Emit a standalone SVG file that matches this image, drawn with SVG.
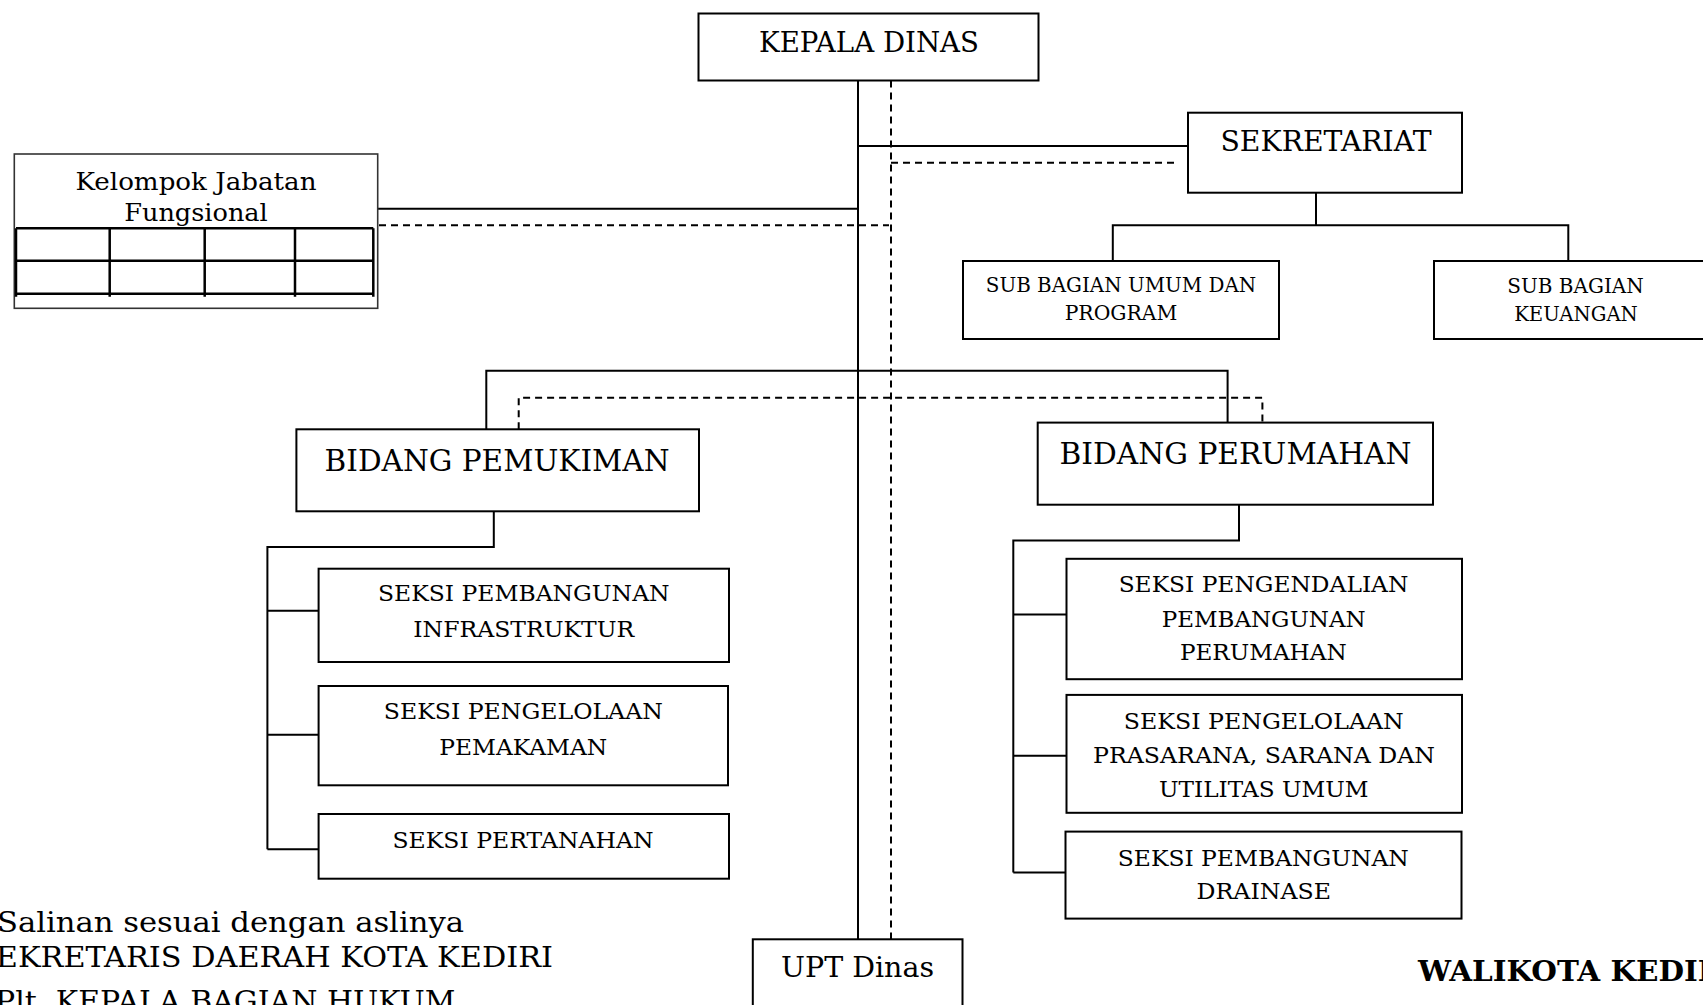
<svg xmlns="http://www.w3.org/2000/svg" width="1703" height="1005" viewBox="0 0 1703 1005">
<style>
.bx{fill:#fff;stroke:#000;stroke-width:2}
.ln{fill:none;stroke:#000;stroke-width:2}
.ds{fill:none;stroke:#000;stroke-width:2;stroke-dasharray:7 5}
.grid{fill:none;stroke:#000;stroke-width:2.5}
text{font-family:"DejaVu Serif","Liberation Serif",serif;fill:#000;text-anchor:middle}
.t27{font-size:27px}
.t30{font-size:30px}
.t23{font-size:23px}
.t20{font-size:20px}
.t24{font-size:24px}
.lft{text-anchor:start}
.end{text-anchor:end}
.bold{font-weight:bold;font-size:28px}
</style>
<rect width="1703" height="1005" fill="#fff"/>
<g id="connectors">
  <line class="ln" x1="858" y1="80.5" x2="858" y2="939.3"/>
  <line class="ln" x1="858" y1="146" x2="1188" y2="146"/>
  <line class="ln" x1="377.7" y1="208.7" x2="858" y2="208.7"/>
  <path class="ln" d="M1316 192.5V225.3M1112.8 261V225.3H1568.3V261"/>
  <path class="ln" d="M486.3 429.3V370.7H1227.6V422.6"/>
  <path class="ln" d="M493.8 511.3V547H267.4V849.3M267.4 610.7H318.6M267.4 734.7H318.6M267.4 849.3H318.6"/>
  <path class="ln" d="M1239 504.7V540.5H1013.3V872.6M1013.3 614.5H1066.5M1013.3 755.8H1066.5M1013.3 872.6H1066.5"/>
  <line class="ds" x1="891" y1="80.5" x2="891" y2="939.3"/>
  <line class="ds" x1="891" y1="162.7" x2="1179" y2="162.7"/>
  <line class="ds" x1="379" y1="225.3" x2="889" y2="225.3"/>
  <path class="ds" d="M518.7 429.3V397.7H1262.4V422.6"/>
</g>
<g id="kepala-dinas">
  <rect class="bx" x="698.5" y="13.5" width="340" height="67"/>
  <text class="t27" x="869" y="52.3" textLength="220" lengthAdjust="spacingAndGlyphs">KEPALA DINAS</text>
</g>
<g id="sekretariat">
  <rect class="bx" x="1188" y="112.7" width="274" height="80"/>
  <text class="t27" x="1326" y="150.7" textLength="211" lengthAdjust="spacingAndGlyphs">SEKRETARIAT</text>
</g>
<g id="kelompok-jabatan-fungsional">
  <rect x="14.3" y="154" width="363.4" height="154.3" fill="#fff" stroke="#333" stroke-width="1.6"/>
  <text class="t24" x="196" y="190" textLength="241" lengthAdjust="spacingAndGlyphs">Kelompok Jabatan</text>
  <text class="t24" x="196" y="221" textLength="143.6" lengthAdjust="spacingAndGlyphs">Fungsional</text>
  <path class="grid" d="M16 228.3H373.3M16 260.7H373.3M16 293.7H373.3M16 228.3V296.7M109.7 228.3V296.7M204.7 228.3V296.7M295 228.3V296.7M373.3 228.3V296.7"/>
</g>
<g id="sub-bagian-umum">
  <rect class="bx" x="963" y="261" width="316" height="78"/>
  <text class="t20" x="1121" y="291.7" textLength="270.4" lengthAdjust="spacingAndGlyphs">SUB BAGIAN UMUM DAN</text>
  <text class="t20" x="1121" y="320" textLength="112.6" lengthAdjust="spacingAndGlyphs">PROGRAM</text>
</g>
<g id="sub-bagian-keuangan">
  <rect class="bx" x="1434" y="261" width="285" height="78"/>
  <text class="t20" x="1575.5" y="292.7" textLength="136.4" lengthAdjust="spacingAndGlyphs">SUB BAGIAN</text>
  <text class="t20" x="1576" y="321" textLength="123.7" lengthAdjust="spacingAndGlyphs">KEUANGAN</text>
</g>
<g id="bidang-pemukiman">
  <rect class="bx" x="296.4" y="429.3" width="402.6" height="82"/>
  <text class="t30" x="497" y="470.7" textLength="345" lengthAdjust="spacingAndGlyphs">BIDANG PEMUKIMAN</text>
</g>
<g id="bidang-perumahan">
  <rect class="bx" x="1037.7" y="422.6" width="395.3" height="82.1"/>
  <text class="t30" x="1235.5" y="463.7" textLength="352" lengthAdjust="spacingAndGlyphs">BIDANG PERUMAHAN</text>
</g>
<g id="seksi-pembangunan-infrastruktur">
  <rect class="bx" x="318.6" y="568.7" width="410.4" height="93.3"/>
  <text class="t23" x="523.8" y="601" textLength="291.6" lengthAdjust="spacingAndGlyphs">SEKSI PEMBANGUNAN</text>
  <text class="t23" x="523.8" y="636.7" textLength="221" lengthAdjust="spacingAndGlyphs">INFRASTRUKTUR</text>
</g>
<g id="seksi-pengelolaan-pemakaman">
  <rect class="bx" x="318.6" y="686" width="409.4" height="99.3"/>
  <text class="t23" x="523.3" y="719.3" textLength="279" lengthAdjust="spacingAndGlyphs">SEKSI PENGELOLAAN</text>
  <text class="t23" x="523.3" y="755" textLength="168" lengthAdjust="spacingAndGlyphs">PEMAKAMAN</text>
</g>
<g id="seksi-pertanahan">
  <rect class="bx" x="318.6" y="814" width="410.4" height="64.7"/>
  <text class="t23" x="523" y="848.3" textLength="261" lengthAdjust="spacingAndGlyphs">SEKSI PERTANAHAN</text>
</g>
<g id="seksi-pengendalian">
  <rect class="bx" x="1066.5" y="558.8" width="395.5" height="120.4"/>
  <text class="t23" x="1263.5" y="592" textLength="289.7" lengthAdjust="spacingAndGlyphs">SEKSI PENGENDALIAN</text>
  <text class="t23" x="1263.7" y="626.5" textLength="204" lengthAdjust="spacingAndGlyphs">PEMBANGUNAN</text>
  <text class="t23" x="1263.3" y="659.5" textLength="166.7" lengthAdjust="spacingAndGlyphs">PERUMAHAN</text>
</g>
<g id="seksi-pengelolaan-prasarana">
  <rect class="bx" x="1066.5" y="694.9" width="395.5" height="117.9"/>
  <text class="t23" x="1263.8" y="729" textLength="280" lengthAdjust="spacingAndGlyphs">SEKSI PENGELOLAAN</text>
  <text class="t23" x="1264" y="762.6" textLength="342" lengthAdjust="spacingAndGlyphs">PRASARANA, SARANA DAN</text>
  <text class="t23" x="1263.8" y="797" textLength="209.5" lengthAdjust="spacingAndGlyphs">UTILITAS UMUM</text>
</g>
<g id="seksi-pembangunan-drainase">
  <rect class="bx" x="1065.5" y="831.6" width="396" height="87"/>
  <text class="t23" x="1263.3" y="865.5" textLength="291" lengthAdjust="spacingAndGlyphs">SEKSI PEMBANGUNAN</text>
  <text class="t23" x="1263.8" y="899.3" textLength="134.4" lengthAdjust="spacingAndGlyphs">DRAINASE</text>
</g>
<g id="upt-dinas">
  <rect class="bx" x="752.8" y="939.3" width="209.7" height="80"/>
  <text class="t27" x="857.5" y="977.3" textLength="153" lengthAdjust="spacingAndGlyphs">UPT Dinas</text>
</g>
<g id="footer">
  <text class="t27 end" x="464" y="931.7" textLength="467" lengthAdjust="spacingAndGlyphs">Salinan sesuai dengan aslinya</text>
  <text class="t27 end" x="553" y="967.3" textLength="578" lengthAdjust="spacingAndGlyphs">SEKRETARIS DAERAH KOTA KEDIRI</text>
  <text class="t27 end" x="465" y="1011" textLength="470" lengthAdjust="spacingAndGlyphs">Plt. KEPALA BAGIAN HUKUM,</text>
  <text class="bold lft" x="1418" y="981" textLength="318" lengthAdjust="spacingAndGlyphs">WALIKOTA KEDIRI</text>
</g>
</svg>
